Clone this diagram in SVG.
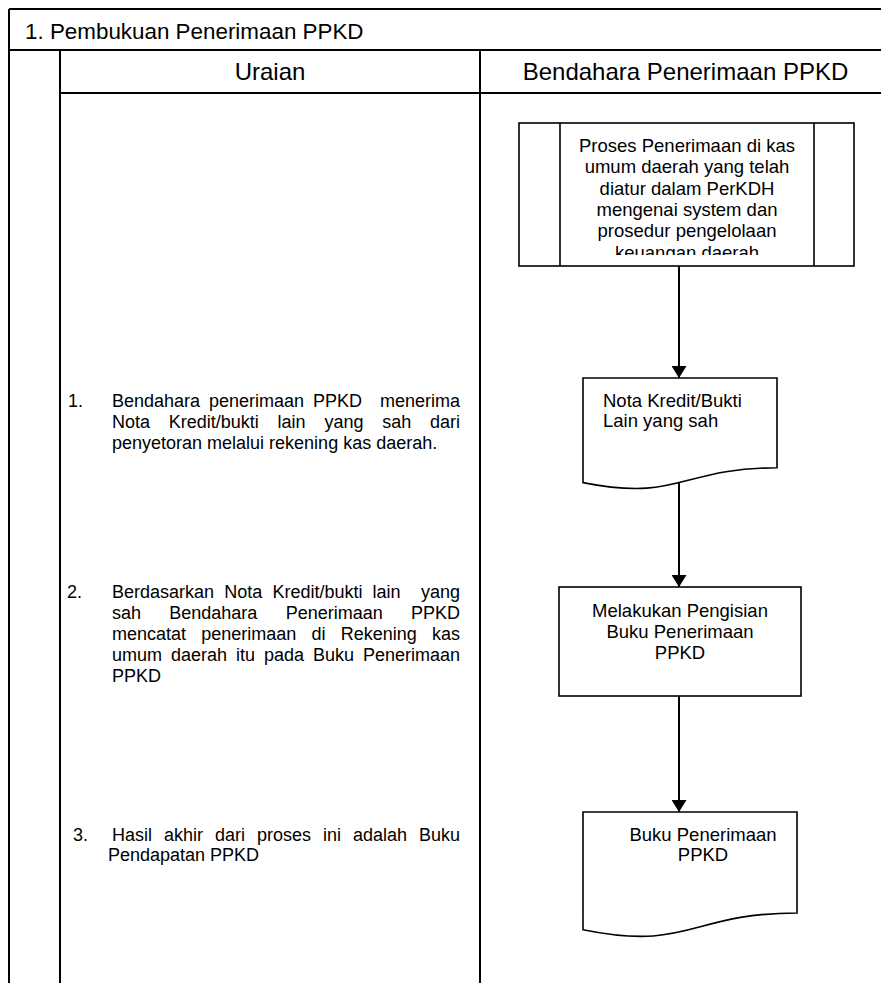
<svg xmlns="http://www.w3.org/2000/svg" width="881" height="983" viewBox="0 0 881 983">
  <style>
    text { font-family: "Liberation Sans", Arial, sans-serif; fill: #000; }
    .frame { stroke: #000; stroke-width: 2; fill: none; }
    .shape { stroke: #000; stroke-width: 1.6; fill: #fff; }
    .conn { stroke: #000; stroke-width: 2; fill: none; marker-end: url(#arrow); }
    .title { font-size: 22.4px; }
    .colhead { font-size: 24px; text-anchor: middle; }
    .body { font-size: 18px; }
    .box { font-size: 18.5px; }
    .mid { text-anchor: middle; }
  </style>
  <defs>
    <marker id="arrow" markerUnits="userSpaceOnUse" markerWidth="12" markerHeight="15" refX="12" refY="7.5" orient="auto">
      <path d="M0,0 L12,7.5 L0,15 Z" fill="#000"/>
    </marker>
    <clipPath id="procClip">
      <rect x="560" y="123" width="254" height="132"/>
    </clipPath>
  </defs>

  <!-- table frame -->
  <g id="frame">
    <line class="frame" x1="9" y1="9" x2="881" y2="9"/>
    <line class="frame" x1="9" y1="9" x2="9" y2="983"/>
    <line class="frame" x1="9" y1="50" x2="881" y2="50"/>
    <line class="frame" x1="60" y1="50" x2="60" y2="983"/>
    <line class="frame" x1="480" y1="50" x2="480" y2="983"/>
    <line class="frame" x1="60" y1="93" x2="881" y2="93"/>
    <text class="title" x="25" y="38.5">1. Pembukuan Penerimaan PPKD</text>
    <text class="colhead" x="270" y="80">Uraian</text>
    <text class="colhead" x="685.5" y="80">Bendahara Penerimaan PPKD</text>
  </g>

  <!-- description column -->
  <g id="step1">
    <text class="body" y="407"><tspan x="68">1.</tspan><tspan x="112">Bendahara</tspan><tspan x="209">penerimaan</tspan><tspan x="313">PPKD</tspan><tspan x="380">menerima</tspan></text>
    <text class="body" y="428"><tspan x="112">Nota</tspan><tspan x="168.8">Kredit/bukti</tspan><tspan x="277.6">lain</tspan><tspan x="324.4">yang</tspan><tspan x="382.2">sah</tspan><tspan x="430">dari</tspan></text>
    <text class="body" x="112" y="449">penyetoran melalui rekening kas daerah.</text>
  </g>
  <g id="step2">
    <text class="body" y="598"><tspan x="67">2.</tspan><tspan x="112">Berdasarkan</tspan><tspan x="224.2">Nota</tspan><tspan x="272.4">Kredit/bukti</tspan><tspan x="372.6">lain</tspan><tspan x="421">yang</tspan></text>
    <text class="body" y="619"><tspan x="112">sah</tspan><tspan x="169.3">Bendahara</tspan><tspan x="285.7">Penerimaan</tspan><tspan x="411">PPKD</tspan></text>
    <text class="body" y="640"><tspan x="112">mencatat</tspan><tspan x="201.3">penerimaan</tspan><tspan x="311.5">di</tspan><tspan x="340.7">Rekening</tspan><tspan x="432">kas</tspan></text>
    <text class="body" y="661"><tspan x="112">umum</tspan><tspan x="171">daerah</tspan><tspan x="236">itu</tspan><tspan x="264">pada</tspan><tspan x="313">Buku</tspan><tspan x="363">Penerimaan</tspan></text>
    <text class="body" x="112" y="682">PPKD</text>
  </g>
  <g id="step3">
    <text class="body" y="841"><tspan x="73">3.</tspan><tspan x="112">Hasil</tspan><tspan x="164">akhir</tspan><tspan x="215">dari</tspan><tspan x="257">proses</tspan><tspan x="323">ini</tspan><tspan x="353">adalah</tspan><tspan x="419">Buku</tspan></text>
    <text class="body" x="108" y="861">Pendapatan PPKD</text>
  </g>

  <!-- flow nodes -->
  <g id="proses-penerimaan">
    <rect class="shape" x="519" y="123" width="335" height="143"/>
    <line class="shape" x1="560" y1="123" x2="560" y2="266"/>
    <line class="shape" x1="814" y1="123" x2="814" y2="266"/>
    <g clip-path="url(#procClip)">
      <text class="box mid" x="687" y="152">Proses Penerimaan di kas</text>
      <text class="box mid" x="687" y="173.3">umum daerah yang telah</text>
      <text class="box mid" x="687" y="194.6">diatur dalam PerKDH</text>
      <text class="box mid" x="687" y="215.9">mengenai system dan</text>
      <text class="box mid" x="687" y="237.2">prosedur pengelolaan</text>
      <text class="box mid" x="687" y="258.5">keuangan daerah</text>
    </g>
  </g>

  <g id="nota-kredit">
    <path class="shape" d="M583,378 H777 V467.8 C680,467.8 680,502 583,482.6 Z"/>
    <text class="box" x="603" y="406.7">Nota Kredit/Bukti</text>
    <text class="box" x="603" y="426.7">Lain yang sah</text>
  </g>

  <g id="pengisian-buku">
    <rect class="shape" x="559" y="587" width="242" height="109"/>
    <text class="box mid" x="680" y="616.7">Melakukan Pengisian</text>
    <text class="box mid" x="680" y="637.5">Buku Penerimaan</text>
    <text class="box mid" x="680" y="659">PPKD</text>
  </g>

  <g id="buku-penerimaan">
    <path class="shape" d="M583,812 H797 V913 C690,913 690,951.5 583,929.7 Z"/>
    <text class="box mid" x="703" y="840.7">Buku Penerimaan</text>
    <text class="box mid" x="703" y="860.7">PPKD</text>
  </g>

  <!-- connectors -->
  <g id="connectors">
    <path class="conn" d="M679,266 V378"/>
    <path class="conn" d="M679,483 V587"/>
    <path class="conn" d="M679,696 V812"/>
  </g>
</svg>
